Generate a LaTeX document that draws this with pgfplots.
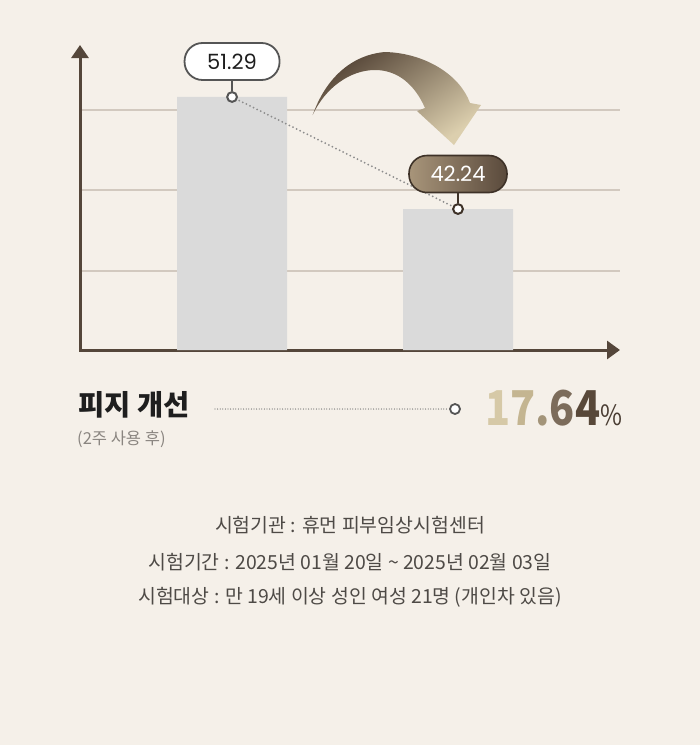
\documentclass[border=0pt]{standalone}
\usepackage{pgfplots}
\pgfplotsset{compat=1.18}
\usepackage{graphicx}
\usetikzlibrary{arrows.meta}
\usepackage{fontspec}
\setmainfont{Noto Sans CJK KR}
\newfontfamily\pop{Poppins}
\definecolor{bgc}{HTML}{F5F0E9}
\definecolor{axc}{HTML}{54463A}
\definecolor{gridc}{HTML}{D2C9BF}
\definecolor{barc}{HTML}{DADADA}
\definecolor{dotc}{HTML}{8C8C8C}
\definecolor{txtc}{HTML}{1E1E1E}
\definecolor{subc}{HTML}{8A8580}
\definecolor{infoc}{HTML}{4E4A46}
\definecolor{arrdark}{HTML}{554537}
\definecolor{arrlight}{HTML}{DCCFAE}
\definecolor{boxone}{HTML}{555555}
\definecolor{boxtwol}{HTML}{A8957A}
\definecolor{boxtwor}{HTML}{5A4A3C}
\definecolor{boxtwob}{HTML}{3E3228}
\definecolor{nA}{HTML}{D6C9A7}
\definecolor{nB}{HTML}{C4B591}
\definecolor{nC}{HTML}{A39479}
\definecolor{nD}{HTML}{7C6C5B}
\definecolor{nE}{HTML}{584839}
\definecolor{nF}{HTML}{4A3D33}
\pagecolor{bgc}
\pgfplotsset{
  layers/barsbelow/.define layer set={axis background,axis grid,main,axis ticks,axis lines,axis tick labels,axis descriptions,axis foreground}{},
}
\begin{document}
\begin{tikzpicture}
\path (0,0) rectangle (700pt,-745pt);
\begin{axis}[
  set layers=barsbelow,
  at={(80pt,-350pt)}, anchor=south west,
  width=540pt, height=305pt, scale only axis,
  xmin=-0.673, xmax=1.717, ymin=30.85, ymax=55.49,
  axis x line=bottom, axis y line=left,
  axis line style={line width=3pt, color=axc, line cap=rect},
  x axis line style={-{Triangle[length=13pt,width=18pt]}},
  y axis line style={-{Triangle[length=13pt,width=17pt]}},
  xtick=\empty, ytick={37.23,43.78,50.24}, yticklabels={},
  major tick length=0pt,
  ymajorgrids, grid style={color=gridc, line width=1.5pt},
]
\addplot[ybar, bar width=110pt, fill=barc, draw=none] coordinates {(0,51.29) (1,42.24)};
\addplot[color=dotc, line width=2pt, line cap=round, dash pattern=on 0pt off 4pt] coordinates {(0,51.29) (1,42.24)};
\addplot[only marks, mark=*, mark size=4.9pt, mark options={fill=white, draw=boxone, line width=2pt}] coordinates {(0,51.29)};
\addplot[only marks, mark=*, mark size=4.9pt, mark options={fill=white, draw=boxtwob, line width=2pt}] coordinates {(1,42.24)};
\coordinate (p1) at (axis cs:0,51.29);
\coordinate (p2) at (axis cs:1,42.24);
\end{axis}
% callouts
\draw[boxone, line width=2pt] ([yshift=6pt]p1) -- ([yshift=18pt]p1);
\node[draw=boxone, line width=1.8pt, fill=white, rounded corners=18pt, minimum width=95pt, minimum height=37pt, inner sep=0pt, text=txtc, font=\pop\fontsize{21}{21}\selectfont] at ([yshift=35.5pt]p1) {51.29};
\draw[boxtwob, line width=2pt] ([yshift=6pt]p2) -- ([yshift=17pt]p2);
\node[draw=boxtwob, line width=1.6pt, left color=boxtwol, right color=boxtwor, rounded corners=18pt, minimum width=98pt, minimum height=37pt, inner sep=0pt, text=white, font=\pop\fontsize{21}{21}\selectfont] at ([yshift=35pt]p2) {42.24};
\begin{scope}[x=1pt,y=-1pt]
% curved arrow
\shade[top color=arrdark, bottom color=arrlight, shading angle=35]
 (312.7,115) .. controls (325,80) and (350,55) .. (385,52)
 .. controls (425,53) and (460,75) .. (470,103)
 -- (481,105) -- (454,145) -- (417,111) -- (425,108)
 .. controls (415,85) and (398,70) .. (375,70)
 .. controls (350,70) and (325,88) .. (312.7,115) -- cycle;
% summary row
\node[anchor=base west, inner sep=0pt, text=txtc, font=\fontsize{28.5}{28.5}\selectfont\bfseries] at (78,415) {피지 개선};
\node[anchor=base west, inner sep=0pt, text=subc, font=\fontsize{16.5}{16.5}\selectfont] at (77,444) {(2주 사용 후)};
\draw[color=dotc!85!black, line width=1.3pt, line cap=round, dash pattern=on 0pt off 2.6pt] (215,409) -- (449,409);
\draw[boxone, line width=1.8pt, fill=white] (455,409) circle (5pt);
\node[anchor=base west, inner sep=0pt] at (485,425) {\scalebox{0.86}[1]{\fontsize{48}{48}\selectfont\bfseries\textcolor{nA}{1}\textcolor{nB}{7}\textcolor{nC}{.}\textcolor{nD}{6}\textcolor{nE}{4}}\scalebox{0.85}[1]{\fontsize{28}{28}\selectfont\textcolor{nF}{\%}}};
% info lines
\node[text=infoc, font=\fontsize{19.4}{19.4}\selectfont] at (350,525) {시험기관 : 휴먼 피부임상시험센터};
\node[text=infoc, font=\fontsize{19.4}{19.4}\selectfont] at (350,562) {시험기간 : 2025년 01월 20일 \textasciitilde\ 2025년 02월 03일};
\node[text=infoc, font=\fontsize{19.4}{19.4}\selectfont] at (350,597) {시험대상 : 만 19세 이상 성인 여성 21명 (개인차 있음)};
\end{scope}
\end{tikzpicture}
\end{document}
